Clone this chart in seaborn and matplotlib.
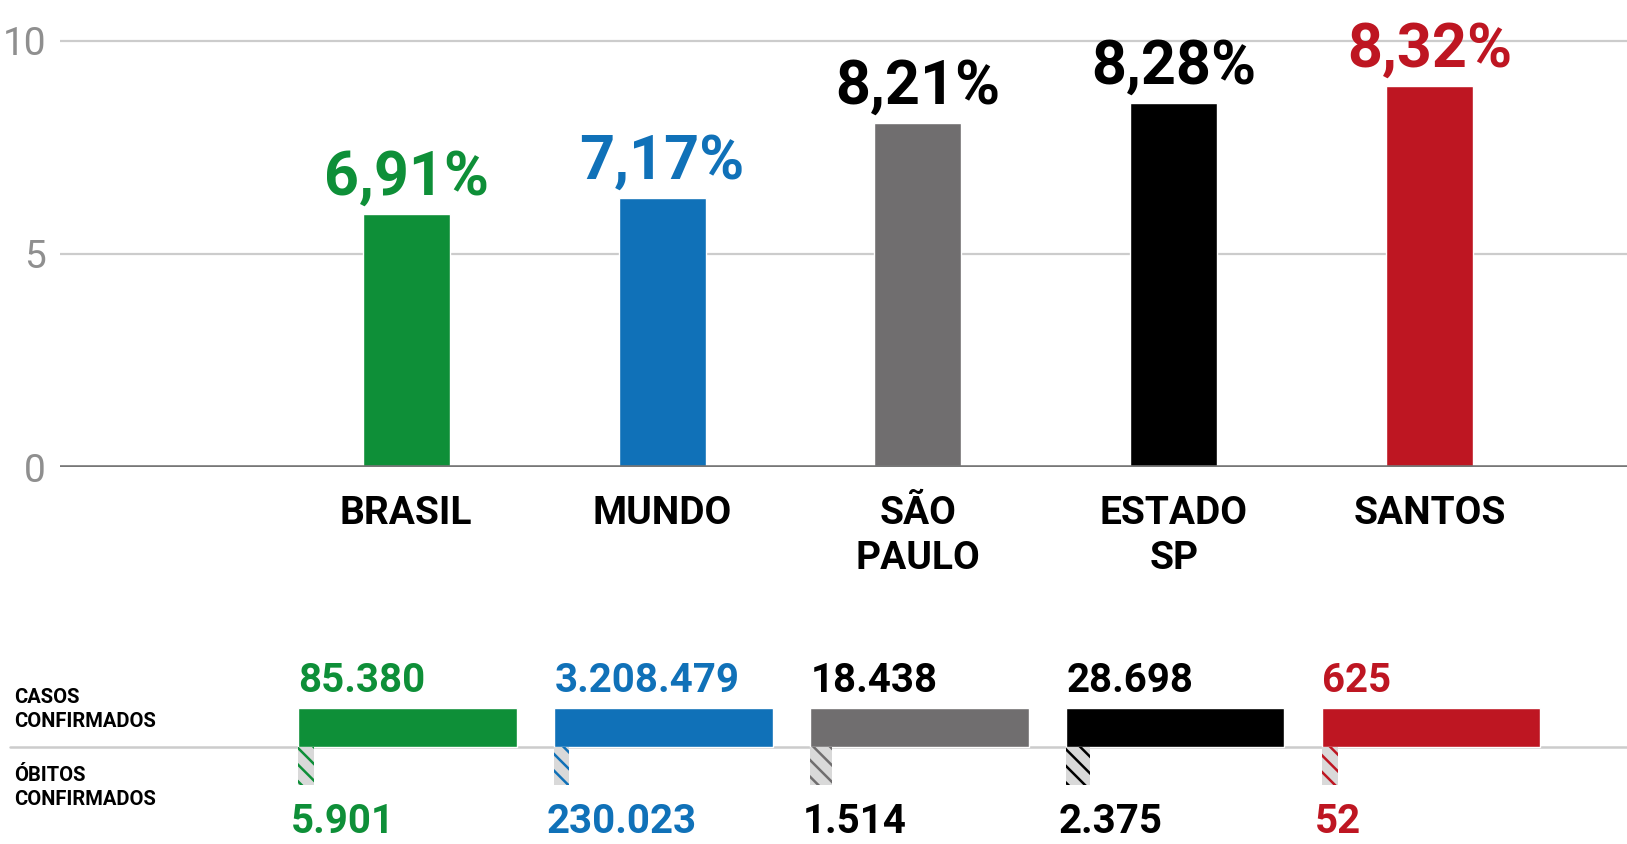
import numpy as np
import pandas as pd
import seaborn as sns
import matplotlib.pyplot as plt

# data
locais = ["BRASIL", "MUNDO", "SÃO\nPAULO", "ESTADO\nSP", "SANTOS"]
altura_barra = [5.93, 6.32, 8.07, 8.54, 8.95]
letalidade_txt = ["6,91%", "7,17%", "8,21%", "8,28%", "8,32%"]
casos_txt = ["85.380", "3.208.479", "18.438", "28.698", "625"]
obitos_txt = ["5.901", "230.023", "1.514", "2.375", "52"]
casos_share = [1.0, 1.0, 1.0, 1.0, 1.0]
obitos_share = [0.073, 0.069, 0.101, 0.110, 0.073]
cores = ["#0e8f38", "#1071b8", "#706e6f", "#000000", "#be1622"]
cores_txt = ["#0e8f38", "#1071b8", "#000000", "#000000", "#be1622"]

df = pd.DataFrame({"local": locais, "valor": altura_barra})

sns.set_theme(style="white")
plt.rcParams["hatch.linewidth"] = 1.8
FONTE = ["Roboto", "DejaVu Sans"]

W, H = 1627, 844
fig = plt.figure(figsize=(W / 100, H / 100), dpi=100)

# top chart
ax = fig.add_axes([60 / W, 1 - 467 / H, 1 - 60 / W, 467 / H])
sns.barplot(data=df, x="local", y="valor", hue="local", palette=cores,
            width=0.34, legend=False, ax=ax, saturation=1)
ax.set_xlim(-1.352, 4.77)
ax.set_ylim(0, 10.96)
ax.set_yticks([0, 5, 10])
ax.set_yticklabels(["0", "5", "10"], fontsize=28, color="#8f8f8f",
                   family=FONTE, weight="normal")
ax.grid(axis="y", color="#cccccc", lw=1.6)
ax.set_axisbelow(True)
ax.axhline(0, color="#777777", lw=2.6, zorder=3)
ax.tick_params(axis="y", length=0, pad=10)
ax.tick_params(axis="x", length=0, pad=20)
ax.set_xlabel("")
ax.set_ylabel("")
for lab in ax.get_xticklabels():
    lab.set_family(FONTE)
    lab.set_weight("bold")
    lab.set_fontsize(28)
    lab.set_color("black")
    lab.set_linespacing(1.3)
for s in ax.spines.values():
    s.set_visible(False)

for i, (v, t) in enumerate(zip(altura_barra, letalidade_txt)):
    ax.text(i, v + 0.45, t, ha="center", va="baseline", color=cores_txt[i],
            fontsize=44, weight="bold", family=FONTE)

# bottom panel: cases and deaths
bx = fig.add_axes([0, 0, 1, (H - 600) / H])
bx.set_xlim(-406 / 256, 4.77)
bx.set_ylim(-2.49, 3.77)
bx.axis("off")
bx.axhline(0, xmin=10 / W, xmax=1, color="#cccccc", lw=1.8, zorder=1)

esq = -0.42
larg = 0.852
for i in range(len(locais)):
    bx.barh(0.5, casos_share[i] * larg, left=i + esq, height=1.0,
            color=cores[i], zorder=2)
    bx.barh(-0.485, obitos_share[i] * larg, left=i + esq, height=0.97,
            color="#d9d9d9", edgecolor=cores[i], hatch="\\\\", lw=0, zorder=2)
    bx.text(i + esq, 1.4, casos_txt[i], ha="left", va="baseline",
            color=cores_txt[i], fontsize=29, weight="bold", family=FONTE)
    bx.text(i + esq - 0.03, -2.2, obitos_txt[i], ha="left", va="baseline",
            color=cores_txt[i], fontsize=29, weight="bold", family=FONTE)

tr = bx.get_yaxis_transform()
bx.text(14 / W, 0.41, "CASOS\nCONFIRMADOS", transform=tr, ha="left",
        va="bottom", fontsize=14.5, weight="bold", family=FONTE,
        linespacing=1.3, color="black")
bx.text(14 / W, -0.5, "ÓBITOS\nCONFIRMADOS", transform=tr, ha="left",
        va="top", fontsize=14.5, weight="bold", family=FONTE,
        linespacing=1.3, color="black")

fig.savefig("out.png", dpi=100)
